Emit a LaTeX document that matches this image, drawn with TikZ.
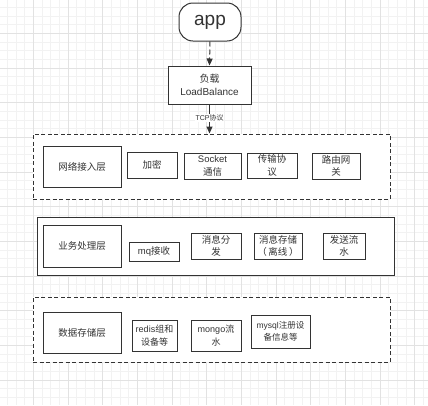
\documentclass[tikz,border=0pt]{standalone}
\usepackage{fontspec}
\setmainfont{Liberation Sans}
\newfontfamily\zh{Noto Sans CJK SC}
\usetikzlibrary{arrows.meta}
\definecolor{ink}{HTML}{333333}
\definecolor{gridminor}{HTML}{F2F2F2}
\definecolor{gridmajor}{HTML}{E2E2E2}
\tikzset{
  box/.style={draw=ink, line width=1pt, fill=white, inner sep=0pt, align=center,
    text=ink, font=\fontsize{9.5}{12.5}\selectfont},
  layerbox/.style={draw=ink, line width=1pt, fill=white, inner sep=0pt},
  dashbox/.style={layerbox, dash pattern=on 4pt off 2.5pt},
  conn/.style={draw=ink, line width=1pt, -{Triangle[length=7pt,width=6pt]}},
}
\begin{document}
\begin{tikzpicture}[x=1pt,y=-1pt]
\useasboundingbox (0,0) rectangle (428,405);
\fill[white] (0,0) rectangle (428,405);
% grid
\begin{scope}
\clip (0,0) rectangle (428,405);
\foreach \i in {0,...,50} {
  \draw[gridminor, line width=0.6pt] ({-1.4+8.667*\i},0) -- ({-1.4+8.667*\i},405);
  \draw[gridminor, line width=0.6pt] (0,{-1.4+8.667*\i}) -- (428,{-1.4+8.667*\i});
}
\foreach \i in {0,...,12} {
  \draw[gridmajor, line width=0.7pt] ({-1.4+34.667*\i},0) -- ({-1.4+34.667*\i},405);
  \draw[gridmajor, line width=0.7pt] (0,{-1.4+34.667*\i}) -- (428,{-1.4+34.667*\i});
}
\end{scope}

% top
\node[box, rounded corners=14pt, minimum width=62pt, minimum height=38pt,
  font=\fontsize{19}{22}\selectfont] (app) at (210,22) {app};
\node[box, minimum width=83pt, minimum height=38pt, font=\fontsize{10}{13}\selectfont]
  (lb) at (209.5,85) {{\zh 负载}\\LoadBalance};

% layer 1
\node[dashbox, minimum width=357pt, minimum height=65pt] (l1) at (211.5,166.5) {};
\node[box, minimum width=78pt, minimum height=41pt] (l1a) at (82,166.5) {\zh 网络接入层};
\node[box, minimum width=50pt, minimum height=26pt] (l1b) at (152,165) {\zh 加密};
\node[box, minimum width=57pt, minimum height=26pt] (l1c) at (212.5,166) {Socket\\{\zh 通信}};
\node[box, minimum width=50pt, minimum height=25pt] (l1d) at (272,165.5) {\zh 传输协\\\zh 议};
\node[box, minimum width=48pt, minimum height=26pt] (l1e) at (336,166) {\zh 路由网\\\zh 关};

% layer 2
\node[layerbox, minimum width=357pt, minimum height=58pt] (l2) at (215.5,246) {};
\node[box, minimum width=78pt, minimum height=42pt] (l2a) at (82,246) {\zh 业务处理层};
\node[box, minimum width=50pt, minimum height=19pt] (l2b) at (154,251.5) {mq{\zh 接收}};
\node[box, minimum width=50pt, minimum height=26pt] (l2c) at (216,246) {\zh 消息分\\\zh 发};
\node[box, minimum width=48pt, minimum height=26pt] (l2d) at (278,246) {\zh 消息存储\\\zh （\,离线\,）};
\node[box, minimum width=42pt, minimum height=26pt] (l2e) at (344,246) {\zh 发送流\\\zh 水};

% layer 3
\node[dashbox, minimum width=357pt, minimum height=65pt] (l3) at (211.5,329.5) {};
\node[box, minimum width=78pt, minimum height=41pt] (l3a) at (82,332.5) {\zh 数据存储层};
\node[box, minimum width=45pt, minimum height=31pt, font=\fontsize{9}{12.5}\selectfont] (l3b) at (154.5,335.5) {redis{\zh 组和}\\{\zh 设备等}};
\node[box, minimum width=50pt, minimum height=31pt, font=\fontsize{9}{12.5}\selectfont] (l3c) at (216,335.5) {mongo{\zh 流}\\{\zh 水}};
\node[box, minimum width=59pt, minimum height=33pt, font=\fontsize{8.5}{12}\selectfont] (l3d) at (280.5,331.5) {mysql{\zh 注册设}\\{\zh 备信息等}};

% connectors
\draw[conn, dash pattern=on 5pt off 3pt] (app.south) -- (lb.north);
\draw[conn] (lb.south) -- (lb.south |- l1.north)
  node[pos=0.47, fill=white, inner sep=0.6pt, text=ink, font=\fontsize{7}{8}\selectfont] (tcp) {TCP{\zh 协议}};
\end{tikzpicture}
\end{document}
